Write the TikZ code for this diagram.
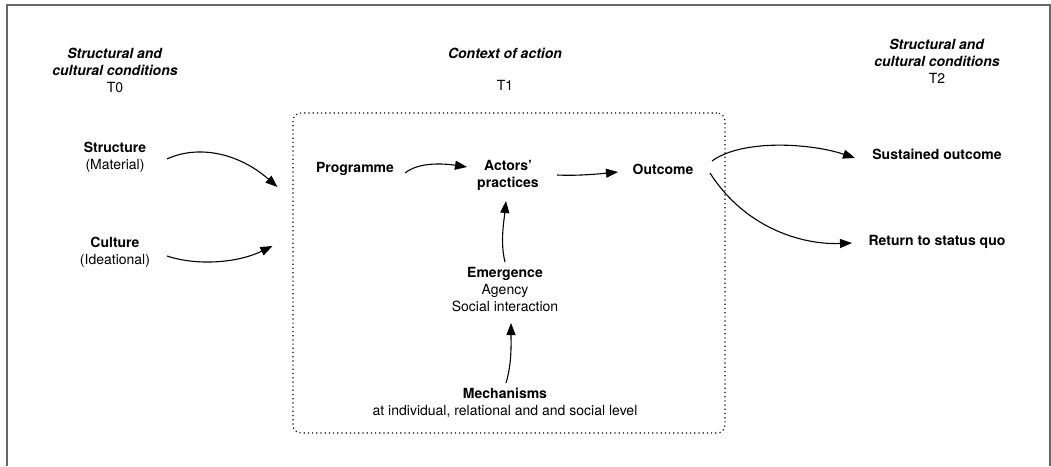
\documentclass[tikz,border=0pt]{standalone}
\usepackage{fontspec}
\setmainfont{TeX Gyre Heros}
\usetikzlibrary{
  arrows.meta
}
\newcommand\headtxt[1]{\textbf{\textit{#1}}}

\begin{document}
\begin{tikzpicture}[x=1pt, y=-1pt,
    every node/.style = {align=center, inner sep=2pt,
      font=\fontsize{14}{17}\selectfont},
    flow/.style = {draw, line width=1.1pt,
      -{Triangle[length=12pt, width=9pt]}},
    ctxbox/.style = {draw, line width=1.1pt, dash pattern=on 1.2pt off 3pt,
      rounded corners=8pt, minimum width=432pt, minimum height=320pt}]
  \useasboundingbox (0,0) rectangle (1051,466);
  \draw[black!60, line width=1.5pt] (7,466) -- (7,5) -- (1050,5) -- (1050,466);

  % time headings
  \node (tzero) at (115,70) {\headtxt{Structural and}\\\headtxt{cultural conditions}\\T0};
  \node (ctxhead) at (505,53) {\headtxt{Context of action}};
  \node (tone) at (505,85) {T1};
  \node (ttwo) at (937,61) {\headtxt{Structural and}\\\headtxt{cultural conditions}\\T2};

  % context box
  \node[ctxbox] (ctx) at (509,273) {};

  \node (structure) at (115,157) {\textbf{Structure}\\(Material)};
  \node (culture) at (115,252) {\textbf{Culture}\\(Ideational)};
  \node (programme) at (355,169) {\textbf{Programme}};
  \node (actors) at (508,175) {\textbf{Actors'}\\\textbf{practices}};
  \node (outcome) at (663,169) {\textbf{Outcome}};
  \node (emergence) at (505,290) {\textbf{Emergence}\\Agency\\Social interaction};
  \node (mechanisms) at (505,403) {\textbf{Mechanisms}\\at individual, relational and and social level};
  \node (sustained) at (937,154) {\textbf{Sustained outcome}};
  \node (statusquo) at (937,242) {\textbf{Return to status quo}};

  % connectors
  \draw[flow] ([shift={(52,2)}]structure.center) .. controls +(30,-14) and +(-40,-35) .. ([shift={(-15,-86)}]ctx.west);
  \draw[flow] ([shift={(52,4)}]culture.center) .. controls +(30,10) and +(-35,17) .. ([shift={(-20,-27)}]ctx.west);
  \draw[flow] ([shift={(50,4)}]programme.center) .. controls +(15,-12) and +(-20,-3) .. ([shift={(-41,-8)}]actors.center);
  \draw[flow] ([shift={(49,0)}]actors.center) .. controls +(20,1) and +(-20,2) .. ([shift={(-45,3)}]outcome.center);
  \draw[flow] ([shift={(0,-28)}]emergence.center) .. controls +(-5,-20) and +(-2,20) .. ([shift={(-2,26)}]actors.center);
  \draw[flow] ([shift={(1,-20)}]mechanisms.center) .. controls +(6,-20) and +(0,20) .. ([shift={(6,33)}]emergence.center);
  \draw[flow] ([shift={(49,-8)}]outcome.center) .. controls +(30,-22) and +(-45,-15) .. ([shift={(-82,4)}]sustained.center);
  \draw[flow] ([shift={(47,4)}]outcome.center) .. controls +(35,55) and +(-50,2) .. ([shift={(-85,1)}]statusquo.center);
\end{tikzpicture}
\end{document}
